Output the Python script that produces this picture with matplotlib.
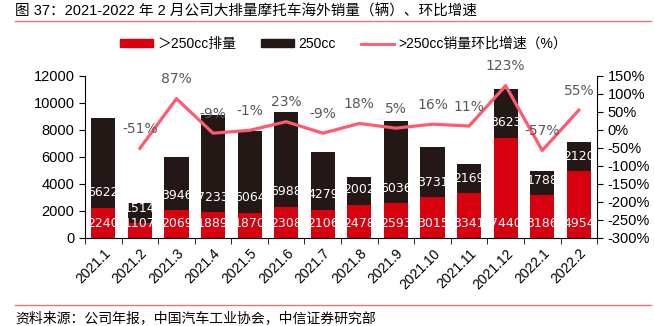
import numpy as np
import matplotlib
matplotlib.use("Agg")
import matplotlib.pyplot as plt
from matplotlib.lines import Line2D
from matplotlib.patches import Patch

plt.rcParams['font.family'] = ['Liberation Sans', 'Noto Sans CJK SC']

months = ["2021.1", "2021.2", "2021.3", "2021.4", "2021.5", "2021.6", "2021.7",
          "2021.8", "2021.9", "2021.10", "2021.11", "2021.12", "2022.1", "2022.2"]
big_cc = [2240, 1107, 2069, 1889, 1870, 2308, 2106, 2478, 2593, 3015, 3341, 7440, 3186, 4954]
cc250 = [6622, 1514, 3946, 7233, 6064, 6988, 4279, 2002, 6036, 3731, 2169, 3623, 1788, 2120]
mom_growth = [np.nan, -51, 87, -9, -1, 23, -9, 18, 5, 16, 11, 123, -57, 55]

RED = "#D7000F"
BLACK = "#231815"
PINK = "#FF5A6E"

fig = plt.figure(figsize=(6.54, 3.26), dpi=100)
ax = fig.add_axes([0.130, 0.270, 0.783, 0.497])
x = np.arange(len(months))

ax.bar(x, big_cc, width=0.66, color=RED)
ax.bar(x, cc250, width=0.66, bottom=big_cc, color=BLACK)

# value labels near the base of each segment
for i in range(len(months)):
    ax.text(x[i], 1100, str(big_cc[i]), color="white", ha="center", va="center",
            fontsize=9, family="DejaVu Sans")
    ax.text(x[i], big_cc[i] + 1100, str(cc250[i]), color="white", ha="center",
            va="center", fontsize=9, family="DejaVu Sans")

ax.set_ylim(0, 12000)
ax.set_yticks(range(0, 12001, 2000))
ax.set_xlim(-0.5, len(months) - 0.5)
ax.set_xticks(x)
ax.set_xticklabels(months, rotation=45, ha="right", rotation_mode="anchor", fontsize=10)
ax.tick_params(axis="x", length=0, pad=6)
ax.set_xticks(np.arange(-0.5, len(months), 1), minor=True)
ax.tick_params(axis="x", which="minor", length=4, direction="out")
ax.tick_params(axis="y", labelsize=10.5, length=4)
for s in ["top", "right"]:
    ax.spines[s].set_visible(False)

ax2 = ax.twinx()
ax2.plot(x, mom_growth, color=PINK, lw=2.3)
for i, v in enumerate(mom_growth):
    if not np.isnan(v):
        ax2.annotate(f"{int(v)}%", (x[i], v), xytext=(0, 14), textcoords="offset points",
                     ha="center", va="center", color="#595959", fontsize=10,
                     family="DejaVu Sans")
ax2.set_ylim(-300, 150)
ax2.set_yticks(range(-300, 151, 50))
ax2.set_yticklabels([f"{t}%" for t in range(-300, 151, 50)])
ax2.tick_params(axis="y", labelsize=10.5, length=4)
for s in ["top", "left", "bottom"]:
    ax2.spines[s].set_visible(False)

handles = [Patch(color=RED), Patch(color=BLACK), Line2D([], [], color=PINK, lw=2)]
labels = ["＞250cc排量", "250cc", ">250cc销量环比增速（%）"]
fig.legend(handles, labels, loc="center", bbox_to_anchor=(0.525, 0.865), ncol=3,
           frameon=False, fontsize=10, handlelength=2.4, handleheight=0.5,
           columnspacing=1.8, handletextpad=0.3)

fig.text(0.023, 0.965, "图 37：2021-2022 年 2 月公司大排量摩托车海外销量（辆）、环比增速",
         fontsize=10.5, ha="left", va="center")
fig.add_artist(Line2D([0.023, 0.995], [0.935, 0.935], color="#E8717E", lw=1))
fig.add_artist(Line2D([0.023, 0.995], [0.065, 0.065], color="#E8717E", lw=1))
fig.text(0.023, 0.025, "资料来源：公司年报，中国汽车工业协会，中信证券研究部",
         fontsize=10, ha="left", va="center")

fig.savefig("out.png", dpi=100)
